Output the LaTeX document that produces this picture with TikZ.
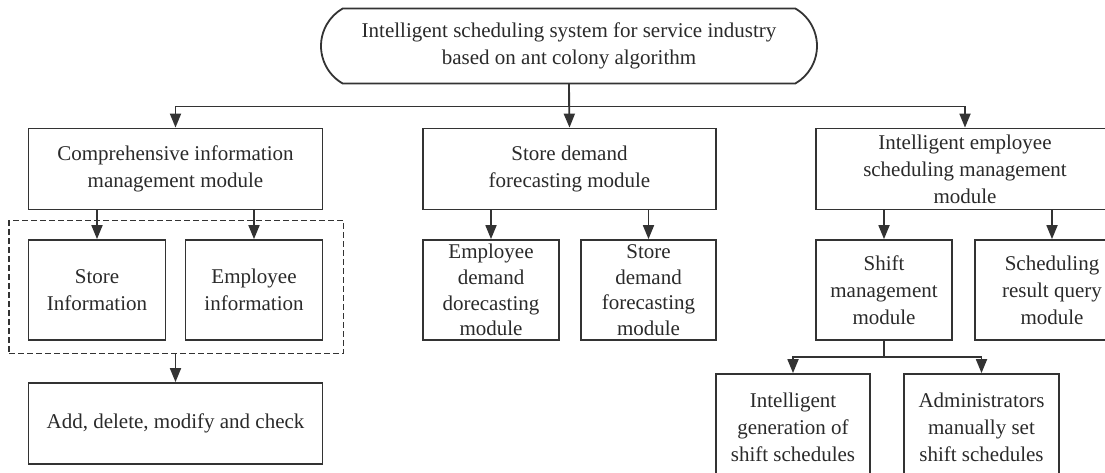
\documentclass[tikz,border=0pt]{standalone}
\usepackage{fontspec}
\setmainfont{Liberation Serif}
\usetikzlibrary{shapes.misc,arrows.meta}
\definecolor{ln}{HTML}{333333}
\definecolor{txt}{HTML}{2A2A2A}
\begin{document}
\begin{tikzpicture}[x=1pt,y=-1pt,
  box/.style={draw=ln, line width=1.8pt, rectangle, align=center, inner sep=0pt,
    font=\fontsize{21}{27}\selectfont, text=txt},
  tight/.style={font=\fontsize{21}{25.7}\selectfont},
  term/.style={box, rounded rectangle, rounded rectangle arc length=120},
  grp/.style={draw=ln, line width=1.2pt, dash pattern=on 6pt off 3pt, rectangle, inner sep=0pt},
  link/.style={draw=ln, line width=1.8pt},
  arr/.style={link, -{Triangle[length=14pt,width=11pt]}}]
\useasboundingbox (0,0) rectangle (1105,472);
\fill[white] (0,0) rectangle (1105,472);

% top
\node[term, minimum width=496, minimum height=75] (top) at (569,46)
  {Intelligent scheduling system for service industry\\based on ant colony algorithm};

% level 1
\node[box, minimum width=294, minimum height=81] (c1) at (175.5,169)
  {Comprehensive information\\management module};
\node[box, minimum width=293, minimum height=81] (c2) at (569.5,169)
  {Store demand\\forecasting module};
\node[box, minimum width=298, minimum height=81] (c3) at (965,169)
  {Intelligent employee\\scheduling management\\module};

% group
\node[grp, minimum width=334.5, minimum height=132.6] (g) at (176.25,287) {};
\node[box, minimum width=137, minimum height=100] (s1) at (97,290)
  {Store\\Information};
\node[box, minimum width=137, minimum height=100] (s2) at (254,290)
  {Employee\\information};
\node[box, minimum width=294, minimum height=81] (add) at (175.5,423.5)
  {Add, delete, modify and check};

% level 2 middle
\node[box, tight, minimum width=136, minimum height=100] (d1) at (491,290)
  {Employee\\demand\\dorecasting\\module};
\node[box, tight, minimum width=135, minimum height=100] (d2) at (648.5,290)
  {Store\\demand\\forecasting\\module};

% level 2 right
\node[box, minimum width=136, minimum height=100] (e1) at (884,290)
  {Shift\\management\\module};
\node[box, minimum width=154, minimum height=100] (e2) at (1052,290)
  {Scheduling\\result query\\module};

% level 3
\node[box, minimum width=154, minimum height=106] (f1) at (793,427)
  {Intelligent\\generation of\\shift schedules};
\node[box, minimum width=155, minimum height=106] (f2) at (981.5,427)
  {Administrators\\manually set\\shift schedules};

% connectors
\coordinate (bus) at (569,106.5);
\draw[link] (top.south) -- (bus);
\draw[arr] (bus) -| (c1.north);
\draw[arr] (bus) -| (c3.north);
\draw[arr] (top.south) -- (c2.north);

\draw[arr] (c1.south -| s1.north) -- (s1.north);
\draw[arr] (c1.south -| s2.north) -- (s2.north);
\draw[arr] (add.north |- g.south) -- (add.north);

\draw[arr] (c2.south -| d1.north) -- (d1.north);
\draw[arr] (c2.south -| d2.north) -- (d2.north);

\draw[arr] (c3.south -| e1.north) -- (e1.north);
\draw[arr] (c3.south -| e2.north) -- (e2.north);

\coordinate (sb) at (884,356.7);
\draw[link] (e1.south) -- (sb);
\draw[arr] (sb) -| (f1.north);
\draw[arr] (sb) -| (f2.north);
\end{tikzpicture}
\end{document}
